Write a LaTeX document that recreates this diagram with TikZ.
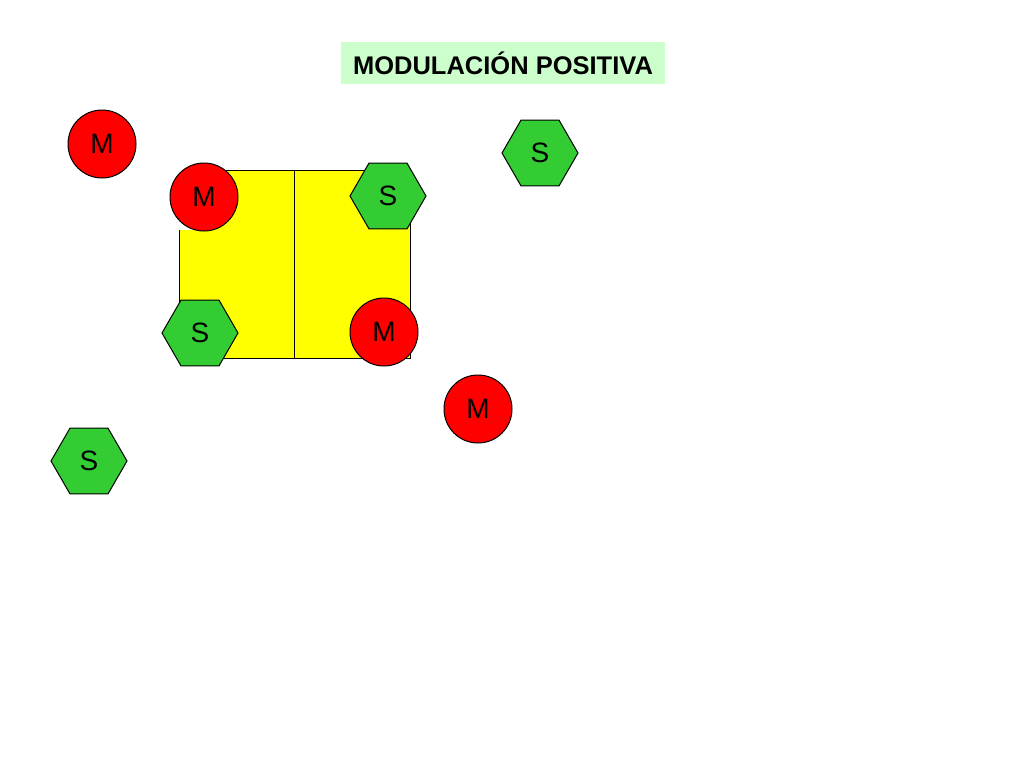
\documentclass[tikz,border=0pt]{standalone}
\usepackage{fontspec}
\setmainfont{Liberation Sans}
\usetikzlibrary{shapes.geometric}
\definecolor{mred}{HTML}{FF0000}
\definecolor{sgreen}{HTML}{33CC33}
\definecolor{tgreen}{HTML}{CCFFCC}
\definecolor{yel}{HTML}{FFFF00}
\begin{document}
\begin{tikzpicture}[x=1pt,y=-1pt,
  mnode/.style={circle,draw=black,line width=1pt,fill=mred,minimum size=68pt,inner sep=0pt,font=\fontsize{28}{28}\selectfont},
  snode/.style={regular polygon,regular polygon sides=6,draw=black,line width=1pt,fill=sgreen,minimum size=76pt,inner sep=0pt,font=\fontsize{28}{28}\selectfont},
  edge/.style={draw=black,line width=1pt}]
\path[use as bounding box,fill=white] (0,0) rectangle (1024,768);
% yellow block
\fill[yel] (179,358) -- (179,230) -- (198,230) -- (198,170) -- (410,170) -- (410,358) -- cycle;
\draw[edge] (179,230) -- (179,358) -- (410,358) -- (410,170) -- (198,170);
\draw[edge] (294,170) -- (294,358);
% title
\node[fill=tgreen,minimum width=324pt,minimum height=42pt,inner sep=0pt,font=\fontsize{25.5}{25.5}\selectfont\bfseries] (title) at (503,63) {MODULACIÓN POSITIVA};
% shapes
\node[mnode] (m1) at (102,144) {M};
\node[mnode] (m2) at (204,197) {M};
\node[mnode] (m3) at (384,332) {M};
\node[mnode] (m4) at (478,409) {M};
\node[snode] (s1) at (540,153) {S};
\node[snode] (s2) at (388,196) {S};
\node[snode] (s3) at (200,333) {S};
\node[snode] (s4) at (89,461) {S};
\end{tikzpicture}
\end{document}
